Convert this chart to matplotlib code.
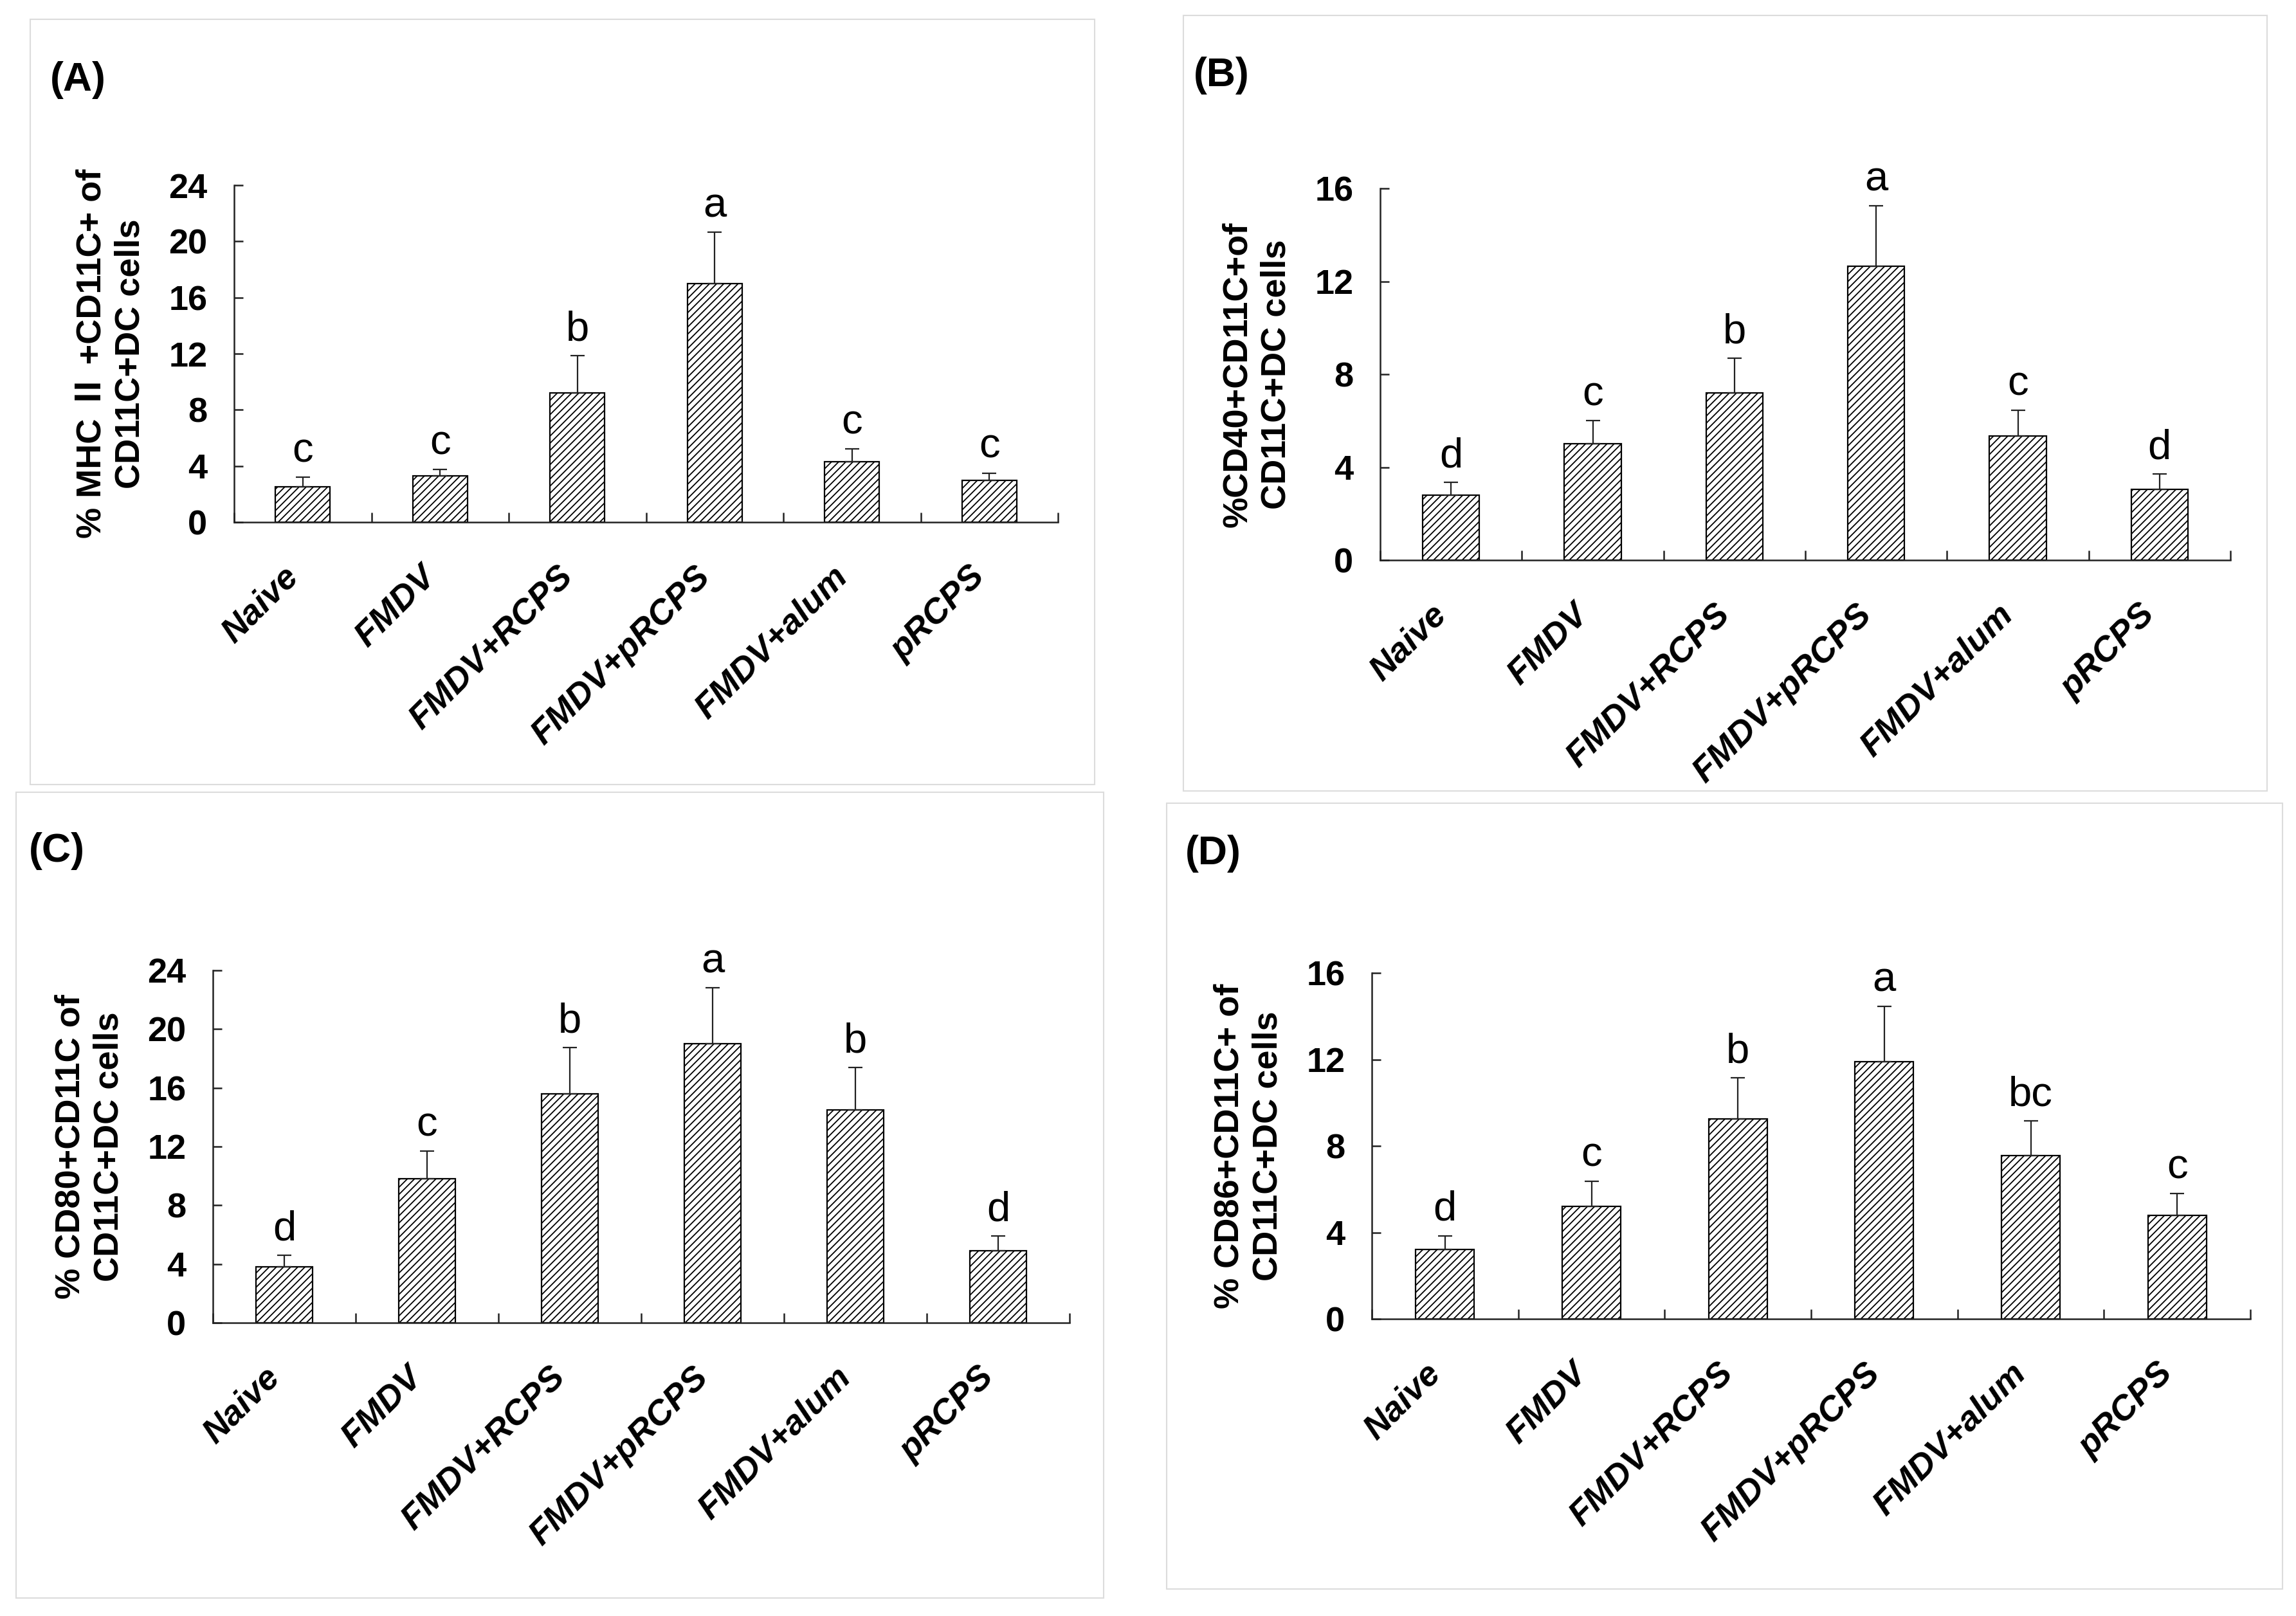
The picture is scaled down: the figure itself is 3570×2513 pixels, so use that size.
import matplotlib
matplotlib.use("Agg")
import matplotlib.pyplot as plt
from matplotlib.patches import Rectangle
from matplotlib.transforms import ScaledTranslation
import numpy as np

# ---------------- data ----------------
groups = ["Naive", "FMDV", "FMDV+RCPS", "FMDV+pRCPS", "FMDV+alum", "pRCPS"]

mhc_mean = [2.5, 3.3, 9.2, 17.0, 4.3, 3.0]
mhc_sd = [0.7, 0.45, 2.65, 3.65, 0.9, 0.5]
mhc_sig = ["c", "c", "b", "a", "c", "c"]

cd40_mean = [2.8, 5.0, 7.2, 12.65, 5.35, 3.05]
cd40_sd = [0.55, 1.0, 1.5, 2.6, 1.1, 0.65]
cd40_sig = ["d", "c", "b", "a", "c", "d"]

cd80_mean = [3.8, 9.8, 15.6, 19.0, 14.5, 4.9]
cd80_sd = [0.8, 1.9, 3.15, 3.8, 2.9, 1.0]
cd80_sig = ["d", "c", "b", "a", "b", "d"]

cd86_mean = [3.2, 5.2, 9.25, 11.9, 7.55, 4.8]
cd86_sd = [0.65, 1.15, 1.9, 2.55, 1.6, 1.0]
cd86_sig = ["d", "c", "b", "a", "bc", "c"]

panel_tags = ["(A)", "(B)", "(C)", "(D)"]
ylabels = [
    "% MHC \u2161 +CD11C+ of\nCD11C+DC cells",
    "%CD40+CD11C+of\nCD11C+DC cells",
    "% CD80+CD11C of\nCD11C+DC cells",
    "% CD86+CD11C+ of\nCD11C+DC cells",
]
ymaxes = [24, 16, 24, 16]
ystep = 4

# ---------------- layout (pixels in a 3570x2513 canvas) ----------------
W, H = 3570, 2513
DPI = 100
fig = plt.figure(figsize=(W / DPI, H / DPI), dpi=DPI)
fig.patch.set_facecolor("white")

def fx(px):
    return px / W

def fy(py):
    return 1 - py / H

axes_px = [
    (364, 288, 1645, 812),
    (2146, 293, 3468, 871),
    (331, 1509, 1663, 2057),
    (2133, 1513, 3499, 2051),
]
frames_px = [
    (47, 30, 1702, 1220),
    (1840, 24, 3525, 1230),
    (25, 1232, 1716, 2485),
    (1814, 1249, 3549, 2471),
]
tags_px = [(78, 95), (1856, 88), (45, 1294), (1843, 1298)]

SANS = ["Liberation Sans", "DejaVu Sans"]
SANS_CJK = ["Liberation Sans", "Noto Sans CJK SC", "DejaVu Sans"]

for (x0, y0, x1, y1) in frames_px:
    fig.patches.append(Rectangle((fx(x0), fy(y1)), fx(x1) - fx(x0), fy(y0) - fy(y1),
                                 transform=fig.transFigure, fill=False,
                                 edgecolor="#dcdcdc", linewidth=1.5, zorder=0))

series = [
    (mhc_mean, mhc_sd, mhc_sig),
    (cd40_mean, cd40_sd, cd40_sig),
    (cd80_mean, cd80_sd, cd80_sig),
    (cd86_mean, cd86_sd, cd86_sig),
]

plt.rcParams["hatch.linewidth"] = 1.3

for i, (means, sds, sigs) in enumerate(series):
    x0, y0, x1, y1 = axes_px[i]
    ax = fig.add_axes([fx(x0), fy(y1), fx(x1) - fx(x0), fy(y0) - fy(y1)])
    xpos = np.arange(len(groups))
    ax.bar(xpos, means, width=0.4, color="white", edgecolor="black",
           linewidth=1.6, hatch="///", zorder=2)
    ax.errorbar(xpos, means, yerr=[np.zeros(len(sds)), sds], fmt="none",
                ecolor="#222222", elinewidth=1.6, capsize=8, capthick=1.6, zorder=3)
    for xi, m, s, lab in zip(xpos, means, sds, sigs):
        ax.annotate(lab, xy=(xi, m + s), xytext=(0, 17), textcoords="offset points",
                    ha="center", va="baseline", fontsize=47, family=SANS)

    ax.set_xlim(-0.5, len(groups) - 0.5)
    ax.set_ylim(0, ymaxes[i])
    ax.set_yticks(np.arange(0, ymaxes[i] + 1, ystep))
    ax.spines["top"].set_visible(False)
    ax.spines["right"].set_visible(False)
    for sp in ("left", "bottom"):
        ax.spines[sp].set_linewidth(1.8)
        ax.spines[sp].set_color("#222222")
    ax.tick_params(axis="y", direction="in", length=10, width=1.8, pad=30,
                   labelsize=39, color="#222222")
    for t in ax.get_yticklabels():
        t.set_fontweight("bold")
        t.set_family(SANS)

    ax.set_xticks(xpos)
    ax.set_xticks(np.arange(-0.5, len(groups)), minor=True)
    ax.tick_params(axis="x", which="major", length=0, pad=56)
    ax.tick_params(axis="x", which="minor", direction="in", length=11, width=1.8,
                   color="#222222")
    ax.set_xticklabels(groups, rotation=45, ha="right", va="center",
                       rotation_mode="anchor", fontsize=39, fontweight="bold",
                       fontstyle="italic", family=SANS)
    shift = ScaledTranslation(-15 / DPI, 0, fig.dpi_scale_trans)
    for t in ax.get_xticklabels():
        t.set_transform(t.get_transform() + shift)

    ax.annotate(ylabels[i], xy=(0, 0.5), xycoords="axes fraction",
                xytext=(-138, 0), textcoords="offset points", rotation=90,
                ha="center", va="center", multialignment="center",
                fontsize=39, fontweight="bold", family=SANS_CJK, linespacing=1.25)

    tx, ty = tags_px[i]
    fig.text(fx(tx), fy(ty), panel_tags[i], ha="left", va="top",
             fontsize=45, fontweight="bold", family=SANS)

fig.savefig("out.png", dpi=DPI, facecolor="white")
